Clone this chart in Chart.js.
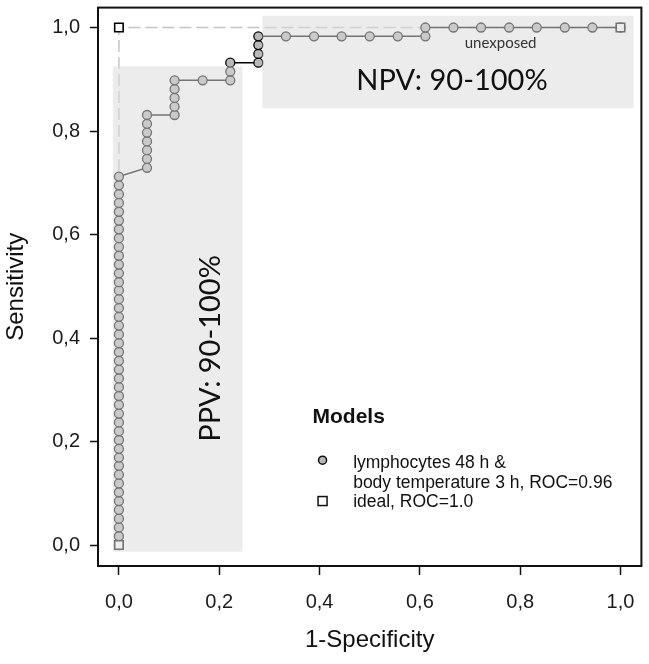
<!DOCTYPE html>
<html lang="en">
<head>
<meta charset="UTF-8">
<title>ROC curve</title>
<script src="https://cdn.jsdelivr.net/npm/chart.js"></script>
<style>
  body { margin: 0; background: #fff; }
  #wrap { width: 649px; height: 664px; }
</style>
</head>
<body>
<div id="wrap"><canvas id="roc" width="649" height="664"></canvas></div>
<script>
// axis ticks
const xTicks = [0, 0.2, 0.4, 0.6, 0.8, 1.0];
const yTicks = [0, 0.2, 0.4, 0.6, 0.8, 1.0];

// ROC points (1-specificity, sensitivity)
const rocFpr = [
  0, 0, 0, 0, 0, 0, 0, 0, 0, 0, 0, 0, 0, 0, 0, 0, 0, 0, 0, 0, 0, 0,
  0, 0, 0, 0, 0, 0, 0, 0, 0, 0, 0, 0, 0, 0, 0, 0, 0, 0, 0, 0, 0,
  0.056, 0.056, 0.056, 0.056, 0.056, 0.056, 0.056,
  0.111, 0.111, 0.111, 0.111, 0.111,
  0.167,
  0.222, 0.222, 0.222,
  0.278, 0.278, 0.278, 0.278,
  0.333, 0.389, 0.444, 0.500, 0.556,
  0.611, 0.611,
  0.667, 0.722, 0.778, 0.833, 0.889, 0.944,
  1.0
];
const rocTpr = [
  0, 0.017, 0.034, 0.051, 0.068, 0.085, 0.102, 0.119, 0.136, 0.153, 0.169,
  0.186, 0.203, 0.220, 0.237, 0.254, 0.271, 0.288, 0.305, 0.322, 0.339, 0.356,
  0.373, 0.390, 0.407, 0.424, 0.441, 0.458, 0.475, 0.492, 0.508, 0.525, 0.542,
  0.559, 0.576, 0.593, 0.610, 0.627, 0.644, 0.661, 0.678, 0.695, 0.712,
  0.729, 0.746, 0.763, 0.780, 0.797, 0.814, 0.831,
  0.831, 0.847, 0.864, 0.881, 0.898,
  0.898,
  0.898, 0.915, 0.932,
  0.932, 0.949, 0.966, 0.983,
  0.983, 0.983, 0.983, 0.983, 0.983,
  0.983, 1.0,
  1.0, 1.0, 1.0, 1.0, 1.0, 1.0,
  1.0
];

// ideal model
const idealFpr = [0, 0, 1];
const idealTpr = [0, 1, 1];

// shaded regions (data units)
const ppvX = [-0.012, 0.246];
const ppvY = [-0.013, 0.925];
const npvX = [0.286, 1.026];
const npvY = [0.844, 1.023];

const toPts = (xs, ys) => xs.map((v, i) => ({ x: v, y: ys[i] }));
const fmt = v => v.toFixed(1).replace('.', ',');
const sans = '"Liberation Sans", Arial, sans-serif';
const calib = 'Lato, "Open Sans", sans-serif';

const overlay = {
  id: 'overlay',
  afterDatasetsDraw(chart) {
    const { ctx, chartArea: a, scales: { x, y } } = chart;
    const px = v => x.getPixelForValue(v);
    const py = v => y.getPixelForValue(v);
    ctx.save();

    // translucent boxes over the curve
    ctx.fillStyle = 'rgba(219,219,219,0.53)';
    [[ppvX, ppvY], [npvX, npvY]].forEach(([bx, by]) => {
      ctx.fillRect(px(bx[0]), py(by[1]), px(bx[1]) - px(bx[0]), py(by[0]) - py(by[1]));
    });

    ctx.fillStyle = '#111';
    ctx.textAlign = 'center';
    ctx.textBaseline = 'middle';
    ctx.font = '29px ' + calib;
    ctx.fillText('NPV: 90-100%', px(0.664), py(0.898));
    ctx.save();
    ctx.translate(px(0.183), py(0.380));
    ctx.rotate(-Math.PI / 2);
    ctx.fillText('PPV: 90-100%', 0, 0);
    ctx.restore();

    ctx.fillStyle = '#333';
    ctx.font = '15px ' + calib;
    ctx.fillText('unexposed', px(0.761), py(0.969));

    // legend
    ctx.fillStyle = '#111';
    ctx.textAlign = 'left';
    ctx.textBaseline = 'alphabetic';
    ctx.font = 'bold 21px ' + sans;
    ctx.fillText('Models', px(0.386), py(0.235));
    ctx.font = '17.5px ' + sans;
    ctx.fillText('lymphocytes 48 h &', px(0.467), py(0.148));
    ctx.fillText('body temperature 3 h, ROC=0.96', px(0.467), py(0.110));
    ctx.fillText('ideal, ROC=1.0', px(0.467), py(0.073));

    ctx.lineWidth = 1.5;
    ctx.strokeStyle = '#111';
    ctx.fillStyle = '#b8b8b8';
    ctx.beginPath();
    ctx.arc(px(0.406), py(0.164), 4, 0, Math.PI * 2);
    ctx.fill();
    ctx.stroke();
    ctx.fillStyle = '#fff';
    ctx.fillRect(px(0.406) - 4.5, py(0.085) - 4.5, 9, 9);
    ctx.strokeRect(px(0.406) - 4.5, py(0.085) - 4.5, 9, 9);

    // frame
    ctx.lineWidth = 2;
    ctx.strokeStyle = '#111';
    ctx.strokeRect(a.left, a.top, a.right - a.left, a.bottom - a.top);
    ctx.restore();
  }
};

new Chart(document.getElementById('roc'), {
  type: 'scatter',
  data: {
    datasets: [
      {
        label: 'ideal line',
        data: toPts(idealFpr, idealTpr),
        showLine: true,
        borderColor: '#c4c4c4',
        borderWidth: 1.5,
        borderDash: [12, 5],
        pointRadius: 0,
        order: 2
      },
      {
        label: 'lymphocytes 48 h & body temperature 3 h, ROC=0.96',
        data: toPts(rocFpr, rocTpr),
        showLine: true,
        borderColor: '#000',
        borderWidth: 1.5,
        pointRadius: 4.5,
        pointBorderWidth: 1.3,
        pointBorderColor: '#000',
        pointBackgroundColor: '#b8b8b8',
        order: 1
      },
      {
        label: 'ideal, ROC=1.0',
        data: toPts(idealFpr, idealTpr),
        showLine: false,
        pointStyle: 'rect',
        pointRadius: 6,
        pointBorderWidth: 1.6,
        pointBorderColor: '#000',
        pointBackgroundColor: '#fff',
        order: 0
      }
    ]
  },
  options: {
    responsive: false,
    animation: false,
    devicePixelRatio: 1,
    layout: { padding: { top: 6, right: 5, left: 0, bottom: 0 } },
    plugins: { legend: { display: false }, tooltip: { enabled: false } },
    scales: {
      x: {
        type: 'linear',
        min: -0.0417,
        max: 1.0417,
        afterBuildTicks: s => { s.ticks = xTicks.map(v => ({ value: v })); },
        afterFit: s => { s.height = 98; s.paddingLeft = 0; s.paddingRight = 0; },
        border: { display: false },
        grid: { drawOnChartArea: false, drawTicks: true, tickLength: 9, tickWidth: 1.5, tickColor: '#111' },
        ticks: { callback: fmt, color: '#1a1a1a', font: { family: sans, size: 20 }, padding: 15, maxRotation: 0 },
        title: { display: true, text: '1-Specificity', color: '#111', font: { family: sans, size: 24 }, padding: { top: 0, bottom: 9 } }
      },
      y: {
        type: 'linear',
        min: -0.0405,
        max: 1.0385,
        afterBuildTicks: s => { s.ticks = yTicks.map(v => ({ value: v })); },
        afterFit: s => { s.width = 98; s.paddingTop = 0; s.paddingBottom = 0; },
        border: { display: false },
        grid: { drawOnChartArea: false, drawTicks: true, tickLength: 8, tickWidth: 1.5, tickColor: '#111' },
        ticks: { callback: fmt, color: '#1a1a1a', font: { family: sans, size: 20 }, padding: 10 },
        title: { display: true, text: 'Sensitivity', color: '#111', font: { family: sans, size: 24 }, padding: { top: 2, bottom: 0 } }
      }
    }
  },
  plugins: [overlay]
});
</script>
</body>
</html>
